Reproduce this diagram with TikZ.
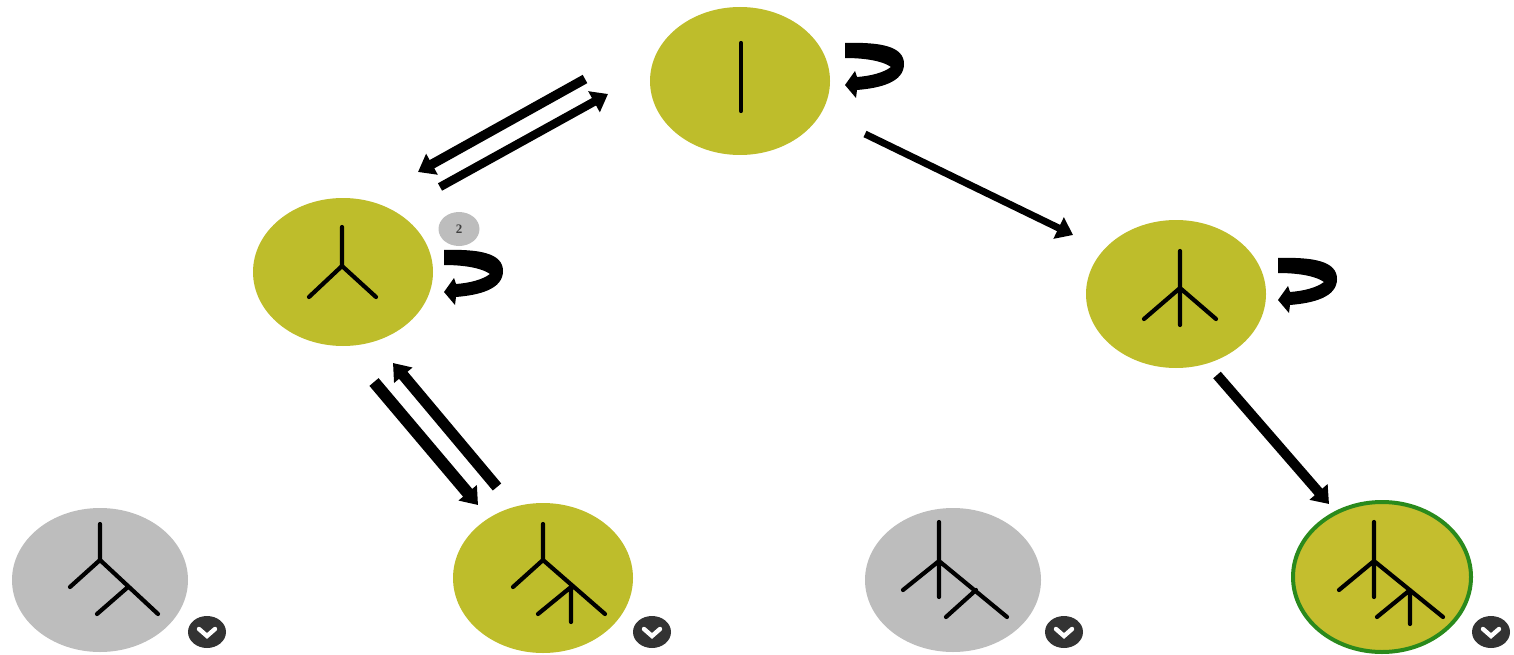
\documentclass[tikz,border=0pt]{standalone}
\usepackage{fontspec}
\setmainfont{Liberation Serif}
\usetikzlibrary{arrows.meta,shapes.geometric}
\definecolor{olive}{HTML}{BEBD2B}
\definecolor{oliveb}{HTML}{C4BE2E}
\definecolor{greyfill}{HTML}{BDBDBD}
\definecolor{ringgreen}{HTML}{2A8A1C}
\definecolor{badgedark}{HTML}{333333}
\tikzset{
  stateoval/.style={ellipse,inner sep=0pt,fill=olive,minimum width=180pt,minimum height=148pt},
  ghostoval/.style={ellipse,inner sep=0pt,fill=greyfill,minimum width=176pt,minimum height=144pt},
  treeline/.style={draw=black,line width=4.2pt,line cap=round,line join=round},
  chevbadge/.style={ellipse,inner sep=0pt,fill=badgedark,minimum width=38pt,minimum height=32pt},
  chevmark/.style={draw=white,line width=4.4pt,line cap=round,line join=miter},
  flow/.style={draw=black,line width=#1pt,-{Triangle[length=16pt,width=23pt]}},
  flow/.default=9,
  countbadge/.style={ellipse,inner sep=0pt,fill=greyfill,minimum width=41pt,minimum height=34pt,font=\fontsize{13}{13}\selectfont\bfseries,text=black!75},
  selfloop/.pic={
    \fill[black] (0,-1) .. controls (35,-2) and (59,2) .. (59,20)
      .. controls (59,38) and (36,44) .. (12,46) -- (11,54) -- (0,41) -- (10,27) -- (12,33)
      .. controls (25,32) and (38,29) .. (46,23)
      .. controls (38,17) and (20,14) .. (0,14) -- cycle;
  }
}
\begin{document}
\begin{tikzpicture}[x=1pt,y=-1pt]
\useasboundingbox (0,0) rectangle (1514,655);
% states
\node[stateoval] (top) at (740,81) {};
\node[stateoval] (left) at (343,272) {};
\node[stateoval] (right) at (1176,294) {};
\node[ghostoval] (g1) at (100,580) {};
\node[stateoval,minimum height=150pt] (o1) at (543,578) {};
\node[ghostoval] (g2) at (953,580) {};
\node[stateoval,fill=oliveb,minimum width=178pt,minimum height=150pt,draw=ringgreen,line width=4pt] (o2) at (1382,577) {};
% trees
\draw[treeline] (741,43) -- (741,111);
\draw[treeline] (342,227) -- (342,266) (309,297) -- (342,266) -- (376,297);
\draw[treeline] (1180,251) -- (1180,325) (1144,319) -- (1180,288) -- (1216,319);
\draw[treeline] (100,524) -- (100,560) (70,587) -- (100,560) -- (158,614) (97,614) -- (128,587);
\draw[treeline] (543,524) -- (543,560) (513,587) -- (543,560) -- (605,614) (538,614) -- (571,587) -- (571,622);
\draw[treeline] (939,522) -- (939,597) (903,590) -- (939,561) -- (1007,617) (946,617) -- (976,590);
\draw[treeline] (1374,522) -- (1374,597) (1339,590) -- (1374,561) -- (1443,617) (1377,617) -- (1410,590) -- (1410,624);
% connector ends
\coordinate (a1) at (585,79); \coordinate (a2) at (418,172);
\coordinate (b1) at (440,187); \coordinate (b2) at (608,94);
\coordinate (c1) at (374,382); \coordinate (c2) at (478,505);
\coordinate (d1) at (497,487); \coordinate (d2) at (393,363);
\coordinate (e1) at (865,134); \coordinate (e2) at (1073,235);
\coordinate (f1) at (1217,375); \coordinate (f2) at (1329,504);
\draw[flow=9.5] (a1) -- (a2);
\draw[flow=8.5] (b1) -- (b2);
\draw[flow=12] (c1) -- (c2);
\draw[flow=11] (d1) -- (d2);
\draw[flow=7] (e1) -- (e2);
\draw[flow=10] (f1) -- (f2);
% self loops
\pic at (845,44) {selfloop};
\pic at (444,251) {selfloop};
\pic at (1278,259) {selfloop};
% count badge
\node[countbadge] (cnt) at (459,229) {2};
% chevron badges
\node[chevbadge] (b1c) at (207,632) {};
\node[chevbadge] (b2c) at (652,632) {};
\node[chevbadge] (b3c) at (1064,632) {};
\node[chevbadge] (b4c) at (1491,632) {};
\foreach \n in {b1c,b2c,b3c,b4c}{
  \draw[chevmark] ([shift={(-8,-3)}]\n.center) -- ([shift={(0,4)}]\n.center) -- ([shift={(8,-3)}]\n.center);
}
\end{tikzpicture}
\end{document}
